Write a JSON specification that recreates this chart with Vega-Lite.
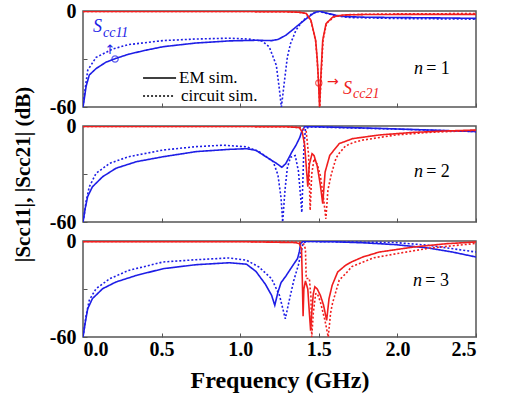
{
  "$schema": "https://vega.github.io/schema/vega-lite/v6.json",
  "padding": {"left": 11, "top": 0, "right": 5, "bottom": 5},
  "spacing": 19,
  "bounds": "flush",
  "config": {
    "font": "Liberation Serif",
    "text": {"font": "Liberation Serif"},
    "view": {"stroke": "#555555", "strokeWidth": 1.5},
    "axis": {
      "grid": false,
      "domain": false,
      "tickColor": "#555555",
      "tickSize": -4,
      "tickWidth": 1,
      "labelFont": "Liberation Serif",
      "labelFontWeight": "bold",
      "labelFontSize": 20,
      "labelColor": "#000000",
      "titleFont": "Liberation Serif",
      "titleFontWeight": "bold",
      "titleColor": "#000000"
    }
  },
  "datasets": {
    "curves": [
      {"p":1,"s":"S11","m":"EM sim.","f":0,"db":-60},{"p":1,"s":"S11","m":"EM sim.","f":0.008,"db":-55},{"p":1,"s":"S11","m":"EM sim.","f":0.02,"db":-47},{"p":1,"s":"S11","m":"EM sim.","f":0.04,"db":-40},{"p":1,"s":"S11","m":"EM sim.","f":0.083,"db":-36},{"p":1,"s":"S11","m":"EM sim.","f":0.146,"db":-32},{"p":1,"s":"S11","m":"EM sim.","f":0.21,"db":-29.6},{"p":1,"s":"S11","m":"EM sim.","f":0.29,"db":-27},{"p":1,"s":"S11","m":"EM sim.","f":0.4,"db":-24.5},{"p":1,"s":"S11","m":"EM sim.","f":0.51,"db":-22.3},{"p":1,"s":"S11","m":"EM sim.","f":0.72,"db":-20},{"p":1,"s":"S11","m":"EM sim.","f":0.93,"db":-18.7},{"p":1,"s":"S11","m":"EM sim.","f":1.1,"db":-18.3},{"p":1,"s":"S11","m":"EM sim.","f":1.2,"db":-18.5},{"p":1,"s":"S11","m":"EM sim.","f":1.24,"db":-17.8},{"p":1,"s":"S11","m":"EM sim.","f":1.29,"db":-15.2},{"p":1,"s":"S11","m":"EM sim.","f":1.355,"db":-10},{"p":1,"s":"S11","m":"EM sim.","f":1.42,"db":-4.8},{"p":1,"s":"S11","m":"EM sim.","f":1.47,"db":-1.2},{"p":1,"s":"S11","m":"EM sim.","f":1.5,"db":-0.1},{"p":1,"s":"S11","m":"EM sim.","f":1.546,"db":-1.2},{"p":1,"s":"S11","m":"EM sim.","f":1.61,"db":-2.7},{"p":1,"s":"S11","m":"EM sim.","f":1.67,"db":-3.5},{"p":1,"s":"S11","m":"EM sim.","f":1.8,"db":-3.9},{"p":1,"s":"S11","m":"EM sim.","f":2.0,"db":-4.1},{"p":1,"s":"S11","m":"EM sim.","f":2.25,"db":-4.3},{"p":1,"s":"S11","m":"EM sim.","f":2.5,"db":-4.6},
      {"p":1,"s":"S11","m":"circuit sim.","f":0,"db":-60},{"p":1,"s":"S11","m":"circuit sim.","f":0.008,"db":-53},{"p":1,"s":"S11","m":"circuit sim.","f":0.03,"db":-37},{"p":1,"s":"S11","m":"circuit sim.","f":0.083,"db":-29},{"p":1,"s":"S11","m":"circuit sim.","f":0.19,"db":-23.7},{"p":1,"s":"S11","m":"circuit sim.","f":0.29,"db":-21},{"p":1,"s":"S11","m":"circuit sim.","f":0.51,"db":-18.5},{"p":1,"s":"S11","m":"circuit sim.","f":0.72,"db":-17.5},{"p":1,"s":"S11","m":"circuit sim.","f":0.93,"db":-17},{"p":1,"s":"S11","m":"circuit sim.","f":1.05,"db":-17.5},{"p":1,"s":"S11","m":"circuit sim.","f":1.14,"db":-18.8},{"p":1,"s":"S11","m":"circuit sim.","f":1.185,"db":-22.5},{"p":1,"s":"S11","m":"circuit sim.","f":1.23,"db":-34},{"p":1,"s":"S11","m":"circuit sim.","f":1.25,"db":-49.6},{"p":1,"s":"S11","m":"circuit sim.","f":1.262,"db":-60},{"p":1,"s":"S11","m":"circuit sim.","f":1.28,"db":-45},{"p":1,"s":"S11","m":"circuit sim.","f":1.3,"db":-28.8},{"p":1,"s":"S11","m":"circuit sim.","f":1.32,"db":-20.4},{"p":1,"s":"S11","m":"circuit sim.","f":1.355,"db":-12},{"p":1,"s":"S11","m":"circuit sim.","f":1.39,"db":-7},{"p":1,"s":"S11","m":"circuit sim.","f":1.42,"db":-4.2},{"p":1,"s":"S11","m":"circuit sim.","f":1.46,"db":-1.5},{"p":1,"s":"S11","m":"circuit sim.","f":1.5,"db":-0.3},{"p":1,"s":"S11","m":"circuit sim.","f":1.55,"db":-1.5},{"p":1,"s":"S11","m":"circuit sim.","f":1.62,"db":-3.2},{"p":1,"s":"S11","m":"circuit sim.","f":1.7,"db":-4.1},{"p":1,"s":"S11","m":"circuit sim.","f":2.0,"db":-4.7},{"p":1,"s":"S11","m":"circuit sim.","f":2.5,"db":-5.1},
      {"p":1,"s":"S21","m":"EM sim.","f":0,"db":-0.3},{"p":1,"s":"S21","m":"EM sim.","f":1.0,"db":-0.3},{"p":1,"s":"S21","m":"EM sim.","f":1.3,"db":-0.5},{"p":1,"s":"S21","m":"EM sim.","f":1.376,"db":-0.8},{"p":1,"s":"S21","m":"EM sim.","f":1.42,"db":-1.5},{"p":1,"s":"S21","m":"EM sim.","f":1.45,"db":-5.8},{"p":1,"s":"S21","m":"EM sim.","f":1.48,"db":-18.3},{"p":1,"s":"S21","m":"EM sim.","f":1.49,"db":-30},{"p":1,"s":"S21","m":"EM sim.","f":1.497,"db":-42},{"p":1,"s":"S21","m":"EM sim.","f":1.505,"db":-60},{"p":1,"s":"S21","m":"EM sim.","f":1.514,"db":-39},{"p":1,"s":"S21","m":"EM sim.","f":1.525,"db":-18.3},{"p":1,"s":"S21","m":"EM sim.","f":1.546,"db":-7.9},{"p":1,"s":"S21","m":"EM sim.","f":1.59,"db":-3.7},{"p":1,"s":"S21","m":"EM sim.","f":1.65,"db":-2.5},{"p":1,"s":"S21","m":"EM sim.","f":1.8,"db":-2.2},{"p":1,"s":"S21","m":"EM sim.","f":2.1,"db":-2.1},{"p":1,"s":"S21","m":"EM sim.","f":2.5,"db":-2.1},
      {"p":1,"s":"S21","m":"circuit sim.","f":0,"db":-0.3},{"p":1,"s":"S21","m":"circuit sim.","f":1.0,"db":-0.3},{"p":1,"s":"S21","m":"circuit sim.","f":1.3,"db":-0.5},{"p":1,"s":"S21","m":"circuit sim.","f":1.38,"db":-0.9},{"p":1,"s":"S21","m":"circuit sim.","f":1.42,"db":-1.6},{"p":1,"s":"S21","m":"circuit sim.","f":1.45,"db":-6},{"p":1,"s":"S21","m":"circuit sim.","f":1.48,"db":-19},{"p":1,"s":"S21","m":"circuit sim.","f":1.49,"db":-31},{"p":1,"s":"S21","m":"circuit sim.","f":1.498,"db":-44},{"p":1,"s":"S21","m":"circuit sim.","f":1.506,"db":-60},{"p":1,"s":"S21","m":"circuit sim.","f":1.515,"db":-40},{"p":1,"s":"S21","m":"circuit sim.","f":1.527,"db":-18},{"p":1,"s":"S21","m":"circuit sim.","f":1.55,"db":-7.5},{"p":1,"s":"S21","m":"circuit sim.","f":1.6,"db":-3.5},{"p":1,"s":"S21","m":"circuit sim.","f":1.7,"db":-2.2},{"p":1,"s":"S21","m":"circuit sim.","f":2.0,"db":-1.8},{"p":1,"s":"S21","m":"circuit sim.","f":2.5,"db":-1.6},

      {"p":2,"s":"S11","m":"EM sim.","f":0,"db":-60},{"p":2,"s":"S11","m":"EM sim.","f":0.015,"db":-51},{"p":2,"s":"S11","m":"EM sim.","f":0.03,"db":-44},{"p":2,"s":"S11","m":"EM sim.","f":0.06,"db":-38},{"p":2,"s":"S11","m":"EM sim.","f":0.125,"db":-31.7},{"p":2,"s":"S11","m":"EM sim.","f":0.21,"db":-26.4},{"p":2,"s":"S11","m":"EM sim.","f":0.34,"db":-22.3},{"p":2,"s":"S11","m":"EM sim.","f":0.51,"db":-19.2},{"p":2,"s":"S11","m":"EM sim.","f":0.72,"db":-16},{"p":2,"s":"S11","m":"EM sim.","f":0.93,"db":-14.6},{"p":2,"s":"S11","m":"EM sim.","f":1.04,"db":-14.2},{"p":2,"s":"S11","m":"EM sim.","f":1.1,"db":-15.2},{"p":2,"s":"S11","m":"EM sim.","f":1.16,"db":-19},{"p":2,"s":"S11","m":"EM sim.","f":1.23,"db":-23.3},{"p":2,"s":"S11","m":"EM sim.","f":1.265,"db":-25.8},{"p":2,"s":"S11","m":"EM sim.","f":1.29,"db":-23.5},{"p":2,"s":"S11","m":"EM sim.","f":1.33,"db":-16},{"p":2,"s":"S11","m":"EM sim.","f":1.355,"db":-12},{"p":2,"s":"S11","m":"EM sim.","f":1.38,"db":-7},{"p":2,"s":"S11","m":"EM sim.","f":1.39,"db":-3.8},{"p":2,"s":"S11","m":"EM sim.","f":1.41,"db":-0.4},{"p":2,"s":"S11","m":"EM sim.","f":1.5,"db":-0.5},{"p":2,"s":"S11","m":"EM sim.","f":1.7,"db":-1},{"p":2,"s":"S11","m":"EM sim.","f":1.89,"db":-1.5},{"p":2,"s":"S11","m":"EM sim.","f":2.2,"db":-2.5},{"p":2,"s":"S11","m":"EM sim.","f":2.5,"db":-3.5},
      {"p":2,"s":"S11","m":"circuit sim.","f":0,"db":-60},{"p":2,"s":"S11","m":"circuit sim.","f":0.008,"db":-55.6},{"p":2,"s":"S11","m":"circuit sim.","f":0.02,"db":-47},{"p":2,"s":"S11","m":"circuit sim.","f":0.04,"db":-38},{"p":2,"s":"S11","m":"circuit sim.","f":0.083,"db":-29.6},{"p":2,"s":"S11","m":"circuit sim.","f":0.17,"db":-23.3},{"p":2,"s":"S11","m":"circuit sim.","f":0.29,"db":-19.2},{"p":2,"s":"S11","m":"circuit sim.","f":0.51,"db":-15},{"p":2,"s":"S11","m":"circuit sim.","f":0.72,"db":-12.9},{"p":2,"s":"S11","m":"circuit sim.","f":0.89,"db":-12},{"p":2,"s":"S11","m":"circuit sim.","f":1.04,"db":-13},{"p":2,"s":"S11","m":"circuit sim.","f":1.12,"db":-16},{"p":2,"s":"S11","m":"circuit sim.","f":1.21,"db":-22.3},{"p":2,"s":"S11","m":"circuit sim.","f":1.24,"db":-30.6},{"p":2,"s":"S11","m":"circuit sim.","f":1.26,"db":-45},{"p":2,"s":"S11","m":"circuit sim.","f":1.27,"db":-60},{"p":2,"s":"S11","m":"circuit sim.","f":1.285,"db":-40},{"p":2,"s":"S11","m":"circuit sim.","f":1.3,"db":-26},{"p":2,"s":"S11","m":"circuit sim.","f":1.32,"db":-19.5},{"p":2,"s":"S11","m":"circuit sim.","f":1.35,"db":-18.5},{"p":2,"s":"S11","m":"circuit sim.","f":1.37,"db":-28},{"p":2,"s":"S11","m":"circuit sim.","f":1.385,"db":-45},{"p":2,"s":"S11","m":"circuit sim.","f":1.392,"db":-54},{"p":2,"s":"S11","m":"circuit sim.","f":1.4,"db":-30},{"p":2,"s":"S11","m":"circuit sim.","f":1.405,"db":-14},{"p":2,"s":"S11","m":"circuit sim.","f":1.415,"db":-1.5},{"p":2,"s":"S11","m":"circuit sim.","f":1.45,"db":-0.6},{"p":2,"s":"S11","m":"circuit sim.","f":1.7,"db":-1.2},{"p":2,"s":"S11","m":"circuit sim.","f":2.0,"db":-2},{"p":2,"s":"S11","m":"circuit sim.","f":2.5,"db":-3.5},
      {"p":2,"s":"S21","m":"EM sim.","f":0,"db":-0.3},{"p":2,"s":"S21","m":"EM sim.","f":1.0,"db":-0.3},{"p":2,"s":"S21","m":"EM sim.","f":1.3,"db":-0.5},{"p":2,"s":"S21","m":"EM sim.","f":1.376,"db":-1},{"p":2,"s":"S21","m":"EM sim.","f":1.395,"db":-3.8},{"p":2,"s":"S21","m":"EM sim.","f":1.41,"db":-12},{"p":2,"s":"S21","m":"EM sim.","f":1.42,"db":-25},{"p":2,"s":"S21","m":"EM sim.","f":1.43,"db":-38},{"p":2,"s":"S21","m":"EM sim.","f":1.44,"db":-24},{"p":2,"s":"S21","m":"EM sim.","f":1.457,"db":-17.3},{"p":2,"s":"S21","m":"EM sim.","f":1.47,"db":-18.5},{"p":2,"s":"S21","m":"EM sim.","f":1.49,"db":-25},{"p":2,"s":"S21","m":"EM sim.","f":1.51,"db":-37},{"p":2,"s":"S21","m":"EM sim.","f":1.525,"db":-48.6},{"p":2,"s":"S21","m":"EM sim.","f":1.54,"db":-28.8},{"p":2,"s":"S21","m":"EM sim.","f":1.57,"db":-18.3},{"p":2,"s":"S21","m":"EM sim.","f":1.63,"db":-11},{"p":2,"s":"S21","m":"EM sim.","f":1.715,"db":-7.9},{"p":2,"s":"S21","m":"EM sim.","f":1.885,"db":-5.6},{"p":2,"s":"S21","m":"EM sim.","f":2.1,"db":-4},{"p":2,"s":"S21","m":"EM sim.","f":2.31,"db":-3.1},{"p":2,"s":"S21","m":"EM sim.","f":2.5,"db":-2.5},
      {"p":2,"s":"S21","m":"circuit sim.","f":0,"db":-0.3},{"p":2,"s":"S21","m":"circuit sim.","f":1.0,"db":-0.3},{"p":2,"s":"S21","m":"circuit sim.","f":1.3,"db":-0.5},{"p":2,"s":"S21","m":"circuit sim.","f":1.39,"db":-1},{"p":2,"s":"S21","m":"circuit sim.","f":1.42,"db":-3.5},{"p":2,"s":"S21","m":"circuit sim.","f":1.435,"db":-18},{"p":2,"s":"S21","m":"circuit sim.","f":1.445,"db":-52.7},{"p":2,"s":"S21","m":"circuit sim.","f":1.455,"db":-30},{"p":2,"s":"S21","m":"circuit sim.","f":1.47,"db":-20.4},{"p":2,"s":"S21","m":"circuit sim.","f":1.49,"db":-24},{"p":2,"s":"S21","m":"circuit sim.","f":1.51,"db":-31},{"p":2,"s":"S21","m":"circuit sim.","f":1.53,"db":-45},{"p":2,"s":"S21","m":"circuit sim.","f":1.545,"db":-58},{"p":2,"s":"S21","m":"circuit sim.","f":1.558,"db":-40},{"p":2,"s":"S21","m":"circuit sim.","f":1.58,"db":-30},{"p":2,"s":"S21","m":"circuit sim.","f":1.61,"db":-20},{"p":2,"s":"S21","m":"circuit sim.","f":1.63,"db":-17},{"p":2,"s":"S21","m":"circuit sim.","f":1.67,"db":-12.5},{"p":2,"s":"S21","m":"circuit sim.","f":1.715,"db":-10.5},{"p":2,"s":"S21","m":"circuit sim.","f":1.78,"db":-8.8},{"p":2,"s":"S21","m":"circuit sim.","f":1.99,"db":-5.6},{"p":2,"s":"S21","m":"circuit sim.","f":2.2,"db":-4},{"p":2,"s":"S21","m":"circuit sim.","f":2.5,"db":-2.8},

      {"p":3,"s":"S11","m":"EM sim.","f":0,"db":-60},{"p":3,"s":"S11","m":"EM sim.","f":0.015,"db":-50.6},{"p":3,"s":"S11","m":"EM sim.","f":0.03,"db":-42.3},{"p":3,"s":"S11","m":"EM sim.","f":0.06,"db":-36},{"p":3,"s":"S11","m":"EM sim.","f":0.125,"db":-29.8},{"p":3,"s":"S11","m":"EM sim.","f":0.21,"db":-25.6},{"p":3,"s":"S11","m":"EM sim.","f":0.34,"db":-21.5},{"p":3,"s":"S11","m":"EM sim.","f":0.51,"db":-17.3},{"p":3,"s":"S11","m":"EM sim.","f":0.72,"db":-14.8},{"p":3,"s":"S11","m":"EM sim.","f":0.93,"db":-13.6},{"p":3,"s":"S11","m":"EM sim.","f":1.04,"db":-14.5},{"p":3,"s":"S11","m":"EM sim.","f":1.1,"db":-19},{"p":3,"s":"S11","m":"EM sim.","f":1.16,"db":-27},{"p":3,"s":"S11","m":"EM sim.","f":1.2,"db":-34},{"p":3,"s":"S11","m":"EM sim.","f":1.22,"db":-40.2},{"p":3,"s":"S11","m":"EM sim.","f":1.24,"db":-32},{"p":3,"s":"S11","m":"EM sim.","f":1.26,"db":-26},{"p":3,"s":"S11","m":"EM sim.","f":1.29,"db":-22},{"p":3,"s":"S11","m":"EM sim.","f":1.33,"db":-16},{"p":3,"s":"S11","m":"EM sim.","f":1.365,"db":-10.9},{"p":3,"s":"S11","m":"EM sim.","f":1.376,"db":-6.7},{"p":3,"s":"S11","m":"EM sim.","f":1.385,"db":-1.5},{"p":3,"s":"S11","m":"EM sim.","f":1.4,"db":-0.2},{"p":3,"s":"S11","m":"EM sim.","f":1.6,"db":-0.5},{"p":3,"s":"S11","m":"EM sim.","f":1.8,"db":-1.2},{"p":3,"s":"S11","m":"EM sim.","f":1.99,"db":-2.3},{"p":3,"s":"S11","m":"EM sim.","f":2.2,"db":-4.4},{"p":3,"s":"S11","m":"EM sim.","f":2.35,"db":-6.9},{"p":3,"s":"S11","m":"EM sim.","f":2.5,"db":-10},
      {"p":3,"s":"S11","m":"circuit sim.","f":0,"db":-60},{"p":3,"s":"S11","m":"circuit sim.","f":0.008,"db":-54.8},{"p":3,"s":"S11","m":"circuit sim.","f":0.02,"db":-46.5},{"p":3,"s":"S11","m":"circuit sim.","f":0.04,"db":-37},{"p":3,"s":"S11","m":"circuit sim.","f":0.083,"db":-29.8},{"p":3,"s":"S11","m":"circuit sim.","f":0.17,"db":-23.6},{"p":3,"s":"S11","m":"circuit sim.","f":0.29,"db":-18.4},{"p":3,"s":"S11","m":"circuit sim.","f":0.51,"db":-13.1},{"p":3,"s":"S11","m":"circuit sim.","f":0.72,"db":-11.7},{"p":3,"s":"S11","m":"circuit sim.","f":0.93,"db":-10.6},{"p":3,"s":"S11","m":"circuit sim.","f":1.04,"db":-12},{"p":3,"s":"S11","m":"circuit sim.","f":1.12,"db":-16.3},{"p":3,"s":"S11","m":"circuit sim.","f":1.2,"db":-23.6},{"p":3,"s":"S11","m":"circuit sim.","f":1.25,"db":-34},{"p":3,"s":"S11","m":"circuit sim.","f":1.287,"db":-48.6},{"p":3,"s":"S11","m":"circuit sim.","f":1.31,"db":-38},{"p":3,"s":"S11","m":"circuit sim.","f":1.34,"db":-25},{"p":3,"s":"S11","m":"circuit sim.","f":1.37,"db":-15},{"p":3,"s":"S11","m":"circuit sim.","f":1.39,"db":-6},{"p":3,"s":"S11","m":"circuit sim.","f":1.4,"db":-1.5},{"p":3,"s":"S11","m":"circuit sim.","f":1.42,"db":-0.3},{"p":3,"s":"S11","m":"circuit sim.","f":1.6,"db":-0.5},{"p":3,"s":"S11","m":"circuit sim.","f":1.99,"db":-1},{"p":3,"s":"S11","m":"circuit sim.","f":2.2,"db":-2.7},{"p":3,"s":"S11","m":"circuit sim.","f":2.5,"db":-6.9},
      {"p":3,"s":"S21","m":"EM sim.","f":0,"db":-0.4},{"p":3,"s":"S21","m":"EM sim.","f":1.0,"db":-0.4},{"p":3,"s":"S21","m":"EM sim.","f":1.35,"db":-1},{"p":3,"s":"S21","m":"EM sim.","f":1.376,"db":-1.7},{"p":3,"s":"S21","m":"EM sim.","f":1.39,"db":-4.8},{"p":3,"s":"S21","m":"EM sim.","f":1.395,"db":-23.6},{"p":3,"s":"S21","m":"EM sim.","f":1.4,"db":-47},{"p":3,"s":"S21","m":"EM sim.","f":1.405,"db":-30},{"p":3,"s":"S21","m":"EM sim.","f":1.415,"db":-25},{"p":3,"s":"S21","m":"EM sim.","f":1.43,"db":-30},{"p":3,"s":"S21","m":"EM sim.","f":1.44,"db":-45},{"p":3,"s":"S21","m":"EM sim.","f":1.448,"db":-56},{"p":3,"s":"S21","m":"EM sim.","f":1.455,"db":-45},{"p":3,"s":"S21","m":"EM sim.","f":1.465,"db":-33},{"p":3,"s":"S21","m":"EM sim.","f":1.475,"db":-28.6},{"p":3,"s":"S21","m":"EM sim.","f":1.49,"db":-30},{"p":3,"s":"S21","m":"EM sim.","f":1.51,"db":-34},{"p":3,"s":"S21","m":"EM sim.","f":1.53,"db":-40},{"p":3,"s":"S21","m":"EM sim.","f":1.55,"db":-49.6},{"p":3,"s":"S21","m":"EM sim.","f":1.565,"db":-36},{"p":3,"s":"S21","m":"EM sim.","f":1.585,"db":-27.7},{"p":3,"s":"S21","m":"EM sim.","f":1.62,"db":-19.4},{"p":3,"s":"S21","m":"EM sim.","f":1.67,"db":-15.2},{"p":3,"s":"S21","m":"EM sim.","f":1.71,"db":-13},{"p":3,"s":"S21","m":"EM sim.","f":1.78,"db":-10},{"p":3,"s":"S21","m":"EM sim.","f":1.885,"db":-6.9},{"p":3,"s":"S21","m":"EM sim.","f":2.1,"db":-3.8},{"p":3,"s":"S21","m":"EM sim.","f":2.31,"db":-1.7},{"p":3,"s":"S21","m":"EM sim.","f":2.5,"db":-0.6},
      {"p":3,"s":"S21","m":"circuit sim.","f":0,"db":-0.3},{"p":3,"s":"S21","m":"circuit sim.","f":1.0,"db":-0.3},{"p":3,"s":"S21","m":"circuit sim.","f":1.38,"db":-0.8},{"p":3,"s":"S21","m":"circuit sim.","f":1.405,"db":-2},{"p":3,"s":"S21","m":"circuit sim.","f":1.415,"db":-5},{"p":3,"s":"S21","m":"circuit sim.","f":1.42,"db":-23.4},{"p":3,"s":"S21","m":"circuit sim.","f":1.44,"db":-23.4},{"p":3,"s":"S21","m":"circuit sim.","f":1.45,"db":-35},{"p":3,"s":"S21","m":"circuit sim.","f":1.455,"db":-60},{"p":3,"s":"S21","m":"circuit sim.","f":1.465,"db":-45},{"p":3,"s":"S21","m":"circuit sim.","f":1.48,"db":-33},{"p":3,"s":"S21","m":"circuit sim.","f":1.49,"db":-32.7},{"p":3,"s":"S21","m":"circuit sim.","f":1.51,"db":-38},{"p":3,"s":"S21","m":"circuit sim.","f":1.54,"db":-50},{"p":3,"s":"S21","m":"circuit sim.","f":1.56,"db":-60},{"p":3,"s":"S21","m":"circuit sim.","f":1.575,"db":-45},{"p":3,"s":"S21","m":"circuit sim.","f":1.587,"db":-39},{"p":3,"s":"S21","m":"circuit sim.","f":1.63,"db":-24.4},{"p":3,"s":"S21","m":"circuit sim.","f":1.67,"db":-20.5},{"p":3,"s":"S21","m":"circuit sim.","f":1.71,"db":-16},{"p":3,"s":"S21","m":"circuit sim.","f":1.85,"db":-10.5},{"p":3,"s":"S21","m":"circuit sim.","f":1.99,"db":-8},{"p":3,"s":"S21","m":"circuit sim.","f":2.2,"db":-4.5},{"p":3,"s":"S21","m":"circuit sim.","f":2.5,"db":-1.5}
    ]
  },
  "vconcat": [
    {
      "width": 393, "height": 96,
      "layer": [
        {
          "data": {"name": "curves"},
          "transform": [{"filter": "datum.p == 1"}],
          "mark": {"type": "line", "strokeWidth": 1.6, "clip": true},
          "encoding": {
            "x": {"field": "f", "type": "quantitative", "scale": {"domain": [0, 2.5], "nice": false}, "axis": {"values": [0,0.25,0.5,0.75,1,1.25,1.5,1.75,2,2.25,2.5], "labels": false, "title": null}},
            "y": {"field": "db", "type": "quantitative", "scale": {"domain": [-60, 0], "nice": false}, "axis": {"values": [-60,-30,0], "labelExpr": "datum.value == -30 ? '' : (datum.value == -60 ? '-60' : '0')", "labelPadding": 11, "title": null}},
            "color": {"field": "s", "type": "nominal", "scale": {"domain": ["S11","S21"], "range": ["#1e1ee6", "#f01e1e"]}, "legend": null},
            "strokeDash": {"field": "m", "type": "nominal", "scale": {"domain": ["EM sim.","circuit sim."], "range": [[1,0],[2,2]]}, "legend": null}
          }
        },
        {"data": {"values": [{}]}, "mark": {"type": "rule", "strokeWidth": 1.5, "color": "#000000"}, "encoding": {"x": {"datum": 0.382}, "x2": {"datum": 0.592}, "y": {"datum": -41.9}}},
        {"data": {"values": [{}]}, "mark": {"type": "rule", "strokeWidth": 1.5, "color": "#000000", "strokeDash": [2, 2]}, "encoding": {"x": {"datum": 0.382}, "x2": {"datum": 0.58}, "y": {"datum": -53.1}}},
        {"data": {"values": [{}]}, "mark": {"type": "text", "text": "EM sim.", "font": "Liberation Serif", "fontSize": 17, "align": "left", "baseline": "alphabetic"}, "encoding": {"x": {"datum": 0.611}, "y": {"datum": -45}}},
        {"data": {"values": [{}]}, "mark": {"type": "text", "text": "circuit sim.", "font": "Liberation Serif", "fontSize": 17, "align": "left", "baseline": "alphabetic"}, "encoding": {"x": {"datum": 0.623}, "y": {"datum": -56.2}}},
        {"data": {"values": [{}]}, "mark": {"type": "text", "text": "S", "font": "Liberation Serif", "fontStyle": "italic", "fontSize": 18, "color": "#1e1ee6", "align": "left", "baseline": "alphabetic"}, "encoding": {"x": {"datum": 0.064}, "y": {"datum": -13.1}}},
        {"data": {"values": [{}]}, "mark": {"type": "text", "text": "cc11", "font": "Liberation Serif", "fontStyle": "italic", "fontSize": 14, "color": "#1e1ee6", "align": "left", "baseline": "alphabetic"}, "encoding": {"x": {"datum": 0.127}, "y": {"datum": -16.3}}},
        {"data": {"values": [{}]}, "mark": {"type": "text", "text": "↑", "font": "DejaVu Sans", "fontSize": 13, "color": "#1e1ee6", "align": "center", "baseline": "middle"}, "encoding": {"x": {"datum": 0.172}, "y": {"datum": -24.4}}},
        {"data": {"values": [{}]}, "mark": {"type": "point", "shape": "circle", "size": 40, "filled": false, "strokeWidth": 1.2, "color": "#1e1ee6"}, "encoding": {"x": {"datum": 0.204}, "y": {"datum": -30}}},
        {"data": {"values": [{}]}, "mark": {"type": "text", "text": "S", "font": "Liberation Serif", "fontStyle": "italic", "fontSize": 18, "color": "#f01e1e", "align": "left", "baseline": "alphabetic"}, "encoding": {"x": {"datum": 1.654}, "y": {"datum": -51.9}}},
        {"data": {"values": [{}]}, "mark": {"type": "text", "text": "cc21", "font": "Liberation Serif", "fontStyle": "italic", "fontSize": 14, "color": "#f01e1e", "align": "left", "baseline": "alphabetic"}, "encoding": {"x": {"datum": 1.718}, "y": {"datum": -54.4}}},
        {"data": {"values": [{}]}, "mark": {"type": "text", "text": "→", "font": "DejaVu Sans", "fontSize": 14, "color": "#f01e1e", "align": "center", "baseline": "middle"}, "encoding": {"x": {"datum": 1.59}, "y": {"datum": -44.4}}},
        {"data": {"values": [{}]}, "mark": {"type": "point", "shape": "circle", "size": 40, "filled": false, "strokeWidth": 1.2, "color": "#f01e1e"}, "encoding": {"x": {"datum": 1.5}, "y": {"datum": -45}}},
        {"data": {"values": [{}]}, "mark": {"type": "text", "text": "n", "font": "Liberation Serif", "fontStyle": "italic", "fontSize": 18, "align": "left", "baseline": "alphabetic"}, "encoding": {"x": {"datum": 2.106}, "y": {"datum": -39.4}}},
        {"data": {"values": [{}]}, "mark": {"type": "text", "text": "= 1", "font": "Liberation Serif", "fontSize": 18, "align": "left", "baseline": "alphabetic"}, "encoding": {"x": {"datum": 2.183}, "y": {"datum": -39.4}}}
      ]
    },
    {
      "width": 393, "height": 96,
      "layer": [
        {
          "data": {"name": "curves"},
          "transform": [{"filter": "datum.p == 2"}],
          "mark": {"type": "line", "strokeWidth": 1.6, "clip": true},
          "encoding": {
            "x": {"field": "f", "type": "quantitative", "scale": {"domain": [0, 2.5], "nice": false}, "axis": {"values": [0,0.25,0.5,0.75,1,1.25,1.5,1.75,2,2.25,2.5], "labels": false, "title": null}},
            "y": {"field": "db", "type": "quantitative", "scale": {"domain": [-60, 0], "nice": false}, "axis": {"values": [-60,-30,0], "labelExpr": "datum.value == -30 ? '' : (datum.value == -60 ? '-60' : '0')", "labelPadding": 11, "title": "|Scc11|, |Scc21| (dB)", "titleFontSize": 21, "titlePadding": 16}},
            "color": {"field": "s", "type": "nominal", "scale": {"domain": ["S11","S21"], "range": ["#1e1ee6", "#f01e1e"]}, "legend": null},
            "strokeDash": {"field": "m", "type": "nominal", "scale": {"domain": ["EM sim.","circuit sim."], "range": [[1,0],[2,2]]}, "legend": null}
          }
        },
        {"data": {"values": [{}]}, "mark": {"type": "text", "text": "n", "font": "Liberation Serif", "fontStyle": "italic", "fontSize": 18, "align": "left", "baseline": "alphabetic"}, "encoding": {"x": {"datum": 2.106}, "y": {"datum": -31.9}}},
        {"data": {"values": [{}]}, "mark": {"type": "text", "text": "= 2", "font": "Liberation Serif", "fontSize": 18, "align": "left", "baseline": "alphabetic"}, "encoding": {"x": {"datum": 2.183}, "y": {"datum": -31.9}}}
      ]
    },
    {
      "width": 393, "height": 96,
      "layer": [
        {
          "data": {"name": "curves"},
          "transform": [{"filter": "datum.p == 3"}],
          "mark": {"type": "line", "strokeWidth": 1.6, "clip": true},
          "encoding": {
            "x": {"field": "f", "type": "quantitative", "scale": {"domain": [0, 2.5], "nice": false}, "axis": {"values": [0,0.25,0.5,0.75,1,1.25,1.5,1.75,2,2.25,2.5], "labelExpr": "(datum.value * 2) % 1 == 0 ? format(datum.value, '.1f') : ''", "labelPadding": 6, "title": "Frequency (GHz)", "titleFontSize": 24, "titlePadding": 9}},
            "y": {"field": "db", "type": "quantitative", "scale": {"domain": [-60, 0], "nice": false}, "axis": {"values": [-60,-30,0], "labelExpr": "datum.value == -30 ? '' : (datum.value == -60 ? '-60' : '0')", "labelPadding": 11, "title": null}},
            "color": {"field": "s", "type": "nominal", "scale": {"domain": ["S11","S21"], "range": ["#1e1ee6", "#f01e1e"]}, "legend": null},
            "strokeDash": {"field": "m", "type": "nominal", "scale": {"domain": ["EM sim.","circuit sim."], "range": [[1,0],[2,2]]}, "legend": null}
          }
        },
        {"data": {"values": [{}]}, "mark": {"type": "text", "text": "n", "font": "Liberation Serif", "fontStyle": "italic", "fontSize": 18, "align": "left", "baseline": "alphabetic"}, "encoding": {"x": {"datum": 2.1}, "y": {"datum": -27.9}}},
        {"data": {"values": [{}]}, "mark": {"type": "text", "text": "= 3", "font": "Liberation Serif", "fontSize": 18, "align": "left", "baseline": "alphabetic"}, "encoding": {"x": {"datum": 2.177}, "y": {"datum": -27.9}}}
      ]
    }
  ]
}
